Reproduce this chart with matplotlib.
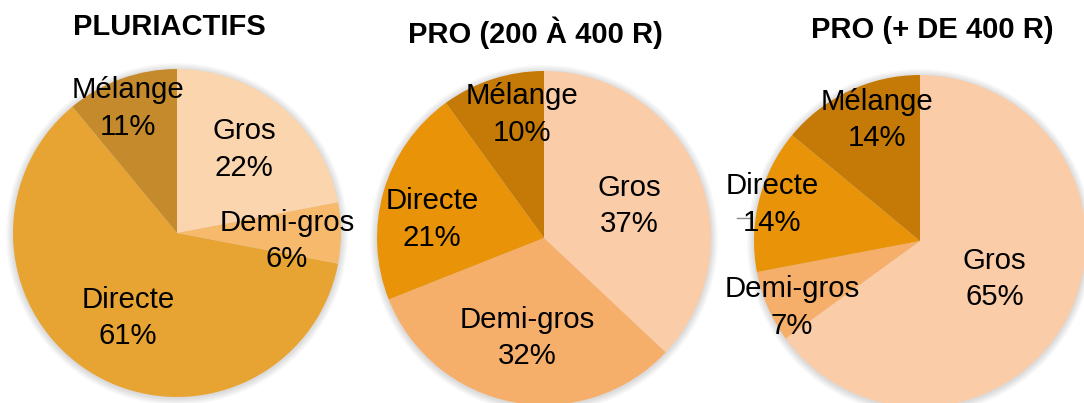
import matplotlib.pyplot as plt

plt.rcParams['font.family'] = ['Liberation Sans', 'DejaVu Sans']

categories = ['Gros', 'Demi-gros', 'Directe', 'Mélange']
titles = ['PLURIACTIFS', 'PRO (200 À 400 R)', 'PRO (+ DE 400 R)']
pluriactifs = [22, 6, 61, 11]
pro_200_400 = [37, 32, 21, 10]
pro_400_plus = [65, 7, 14, 14]

colors_pluri = ['#FAD5AE', '#F7BA6C', '#E8A433', '#C48A2B']
colors_pro = ['#FBCCA8', '#F6AF6A', '#E89308', '#C57A07']

W, H = 1084, 403
fig = plt.figure(figsize=(W / 100, H / 100), dpi=100)
ax = fig.add_axes([0, 0, 1, 1])

# (center x, center y from top, radius, title x, title y)
layout = [
    (177, 233, 164, 169, 27),
    (544, 238, 167, 535, 33),
    (920, 241, 166, 932, 30),
]
# label offsets from pie center, in units of radius
label_offsets = [
    [(0.41, 0.51), (0.67, -0.05), (-0.30, -0.52), (-0.30, 0.76)],
    [(0.51, 0.19), (-0.10, -0.60), (-0.67, 0.11), (-0.13, 0.74)],
    [(0.45, -0.23), (-0.77, -0.40), (-0.89, 0.22), (-0.26, 0.73)],
]
series = [pluriactifs, pro_200_400, pro_400_plus]
palettes = [colors_pluri, colors_pro, colors_pro]

for vals, cols, title, (cx, cy, r, tx, ty), offs in zip(series, palettes, titles,
                                                       layout, label_offsets):
    cy = H - cy
    # soft drop shadow
    for k in range(6):
        ax.add_patch(plt.Circle((cx, cy - 1), r + 1 + k * 1.2, color='#000000',
                                alpha=0.025, lw=0, zorder=1))
    wedges, _ = ax.pie(vals, colors=cols, startangle=90, counterclock=False,
                       center=(cx, cy), radius=r, frame=True,
                       wedgeprops=dict(linewidth=0))
    for w in wedges:
        w.set_zorder(2)
    for name, v, (ox, oy) in zip(categories, vals, offs):
        ax.text(cx + ox * r, cy + oy * r, f'{name}\n{v}%', ha='center',
                va='center', fontsize=21.2, linespacing=1.38, zorder=5)
    ax.text(tx, H - ty, title, ha='center', va='center', fontsize=21,
            fontweight='bold', zorder=5)

# leader line for the small Directe label on the last pie
ax.plot([737, 752], [H - 218, H - 218], color='#8C8C8C', lw=1, zorder=4)

ax.set_xlim(0, W)
ax.set_ylim(0, H)
ax.set_aspect('equal')
ax.axis('off')
fig.savefig('out.png', dpi=100)
